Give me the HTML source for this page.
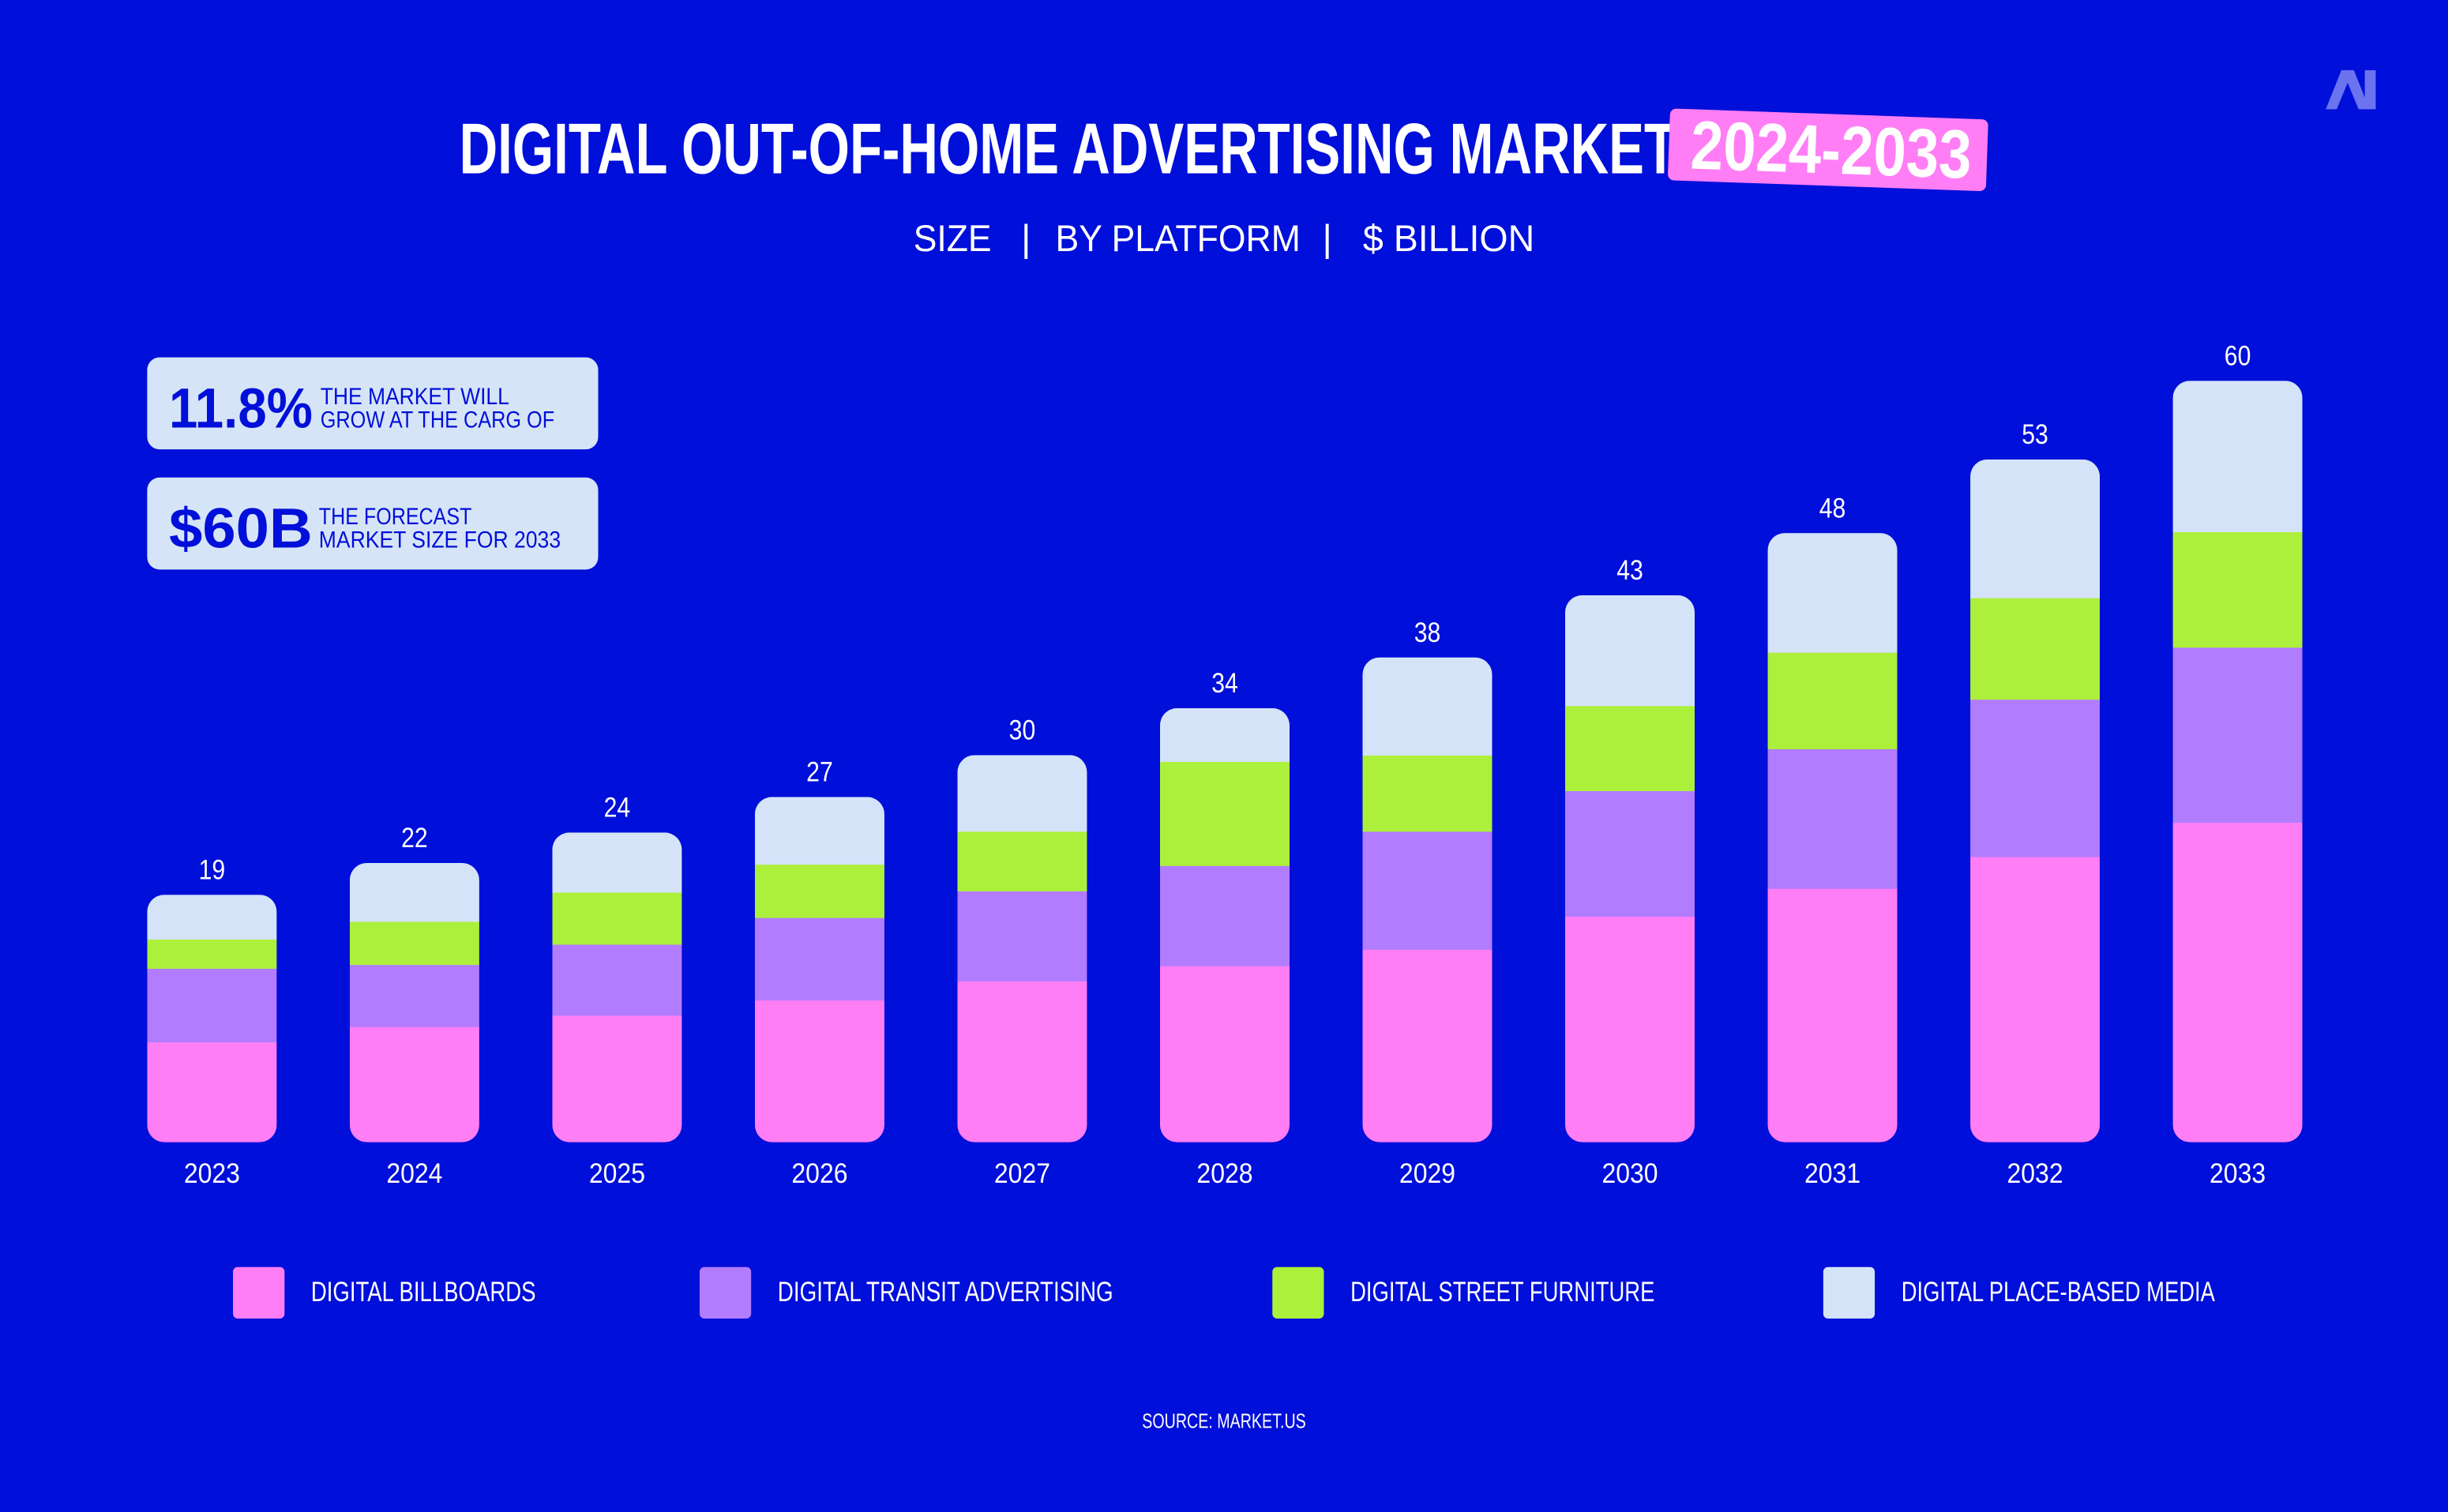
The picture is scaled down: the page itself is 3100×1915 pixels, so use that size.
<!DOCTYPE html>
<html><head><meta charset="utf-8"><style>
html,body{margin:0;padding:0;background:#000fd9;}
svg{display:block;}
text{font-family:"Liberation Sans",sans-serif;}
</style></head><body>
<svg id="chart" width="3100" height="1915" viewBox="0 0 1568 969" xmlns="http://www.w3.org/2000/svg">
<rect width="1568" height="969" fill="#000fd9"/>
<g fill="#6b73ee">
<path d="M1490 70 L1500 45 L1508 45 L1518 70 L1511 70 L1504 53 L1497 70 Z"/>
<rect x="1515" y="45" width="7" height="25"/>
</g>
<text x="294" y="111" font-size="46" font-weight="bold" fill="#fff" textLength="780" lengthAdjust="spacingAndGlyphs">DIGITAL OUT-OF-HOME ADVERTISING MARKET</text>
<g transform="rotate(2 1170 97)">
<rect x="1069" y="73" width="204" height="46" rx="4" fill="#ff7ef5"/>
<text x="1083" y="111" font-size="44" font-weight="bold" fill="#fff" textLength="180" lengthAdjust="spacingAndGlyphs">2024-2033</text>
</g>
<g fill="#fff" font-size="24">
<text x="585" y="161" textLength="50" lengthAdjust="spacingAndGlyphs">SIZE</text>
<text x="654" y="161">|</text>
<text x="676" y="161" textLength="157" lengthAdjust="spacingAndGlyphs">BY PLATFORM</text>
<text x="847" y="161">|</text>
<text x="873" y="161" textLength="110" lengthAdjust="spacingAndGlyphs">$ BILLION</text>
</g>
<g>
<rect x="94" y="229" width="289" height="59" rx="8" fill="#d6e4f7"/>
<text x="108" y="274" font-size="36" font-weight="bold" fill="#000fd9" textLength="92" lengthAdjust="spacingAndGlyphs">11.8%</text>
<text x="205" y="259" font-size="15" fill="#000fd9" textLength="121" lengthAdjust="spacingAndGlyphs">THE MARKET WILL</text>
<text x="205" y="274" font-size="15" fill="#000fd9" textLength="150" lengthAdjust="spacingAndGlyphs">GROW AT THE CARG OF</text>
</g>
<g>
<rect x="94" y="306" width="289" height="59" rx="8" fill="#d6e4f7"/>
<text x="108" y="351" font-size="36" font-weight="bold" fill="#000fd9" textLength="92" lengthAdjust="spacingAndGlyphs">$60B</text>
<text x="204" y="336" font-size="15" fill="#000fd9" textLength="98" lengthAdjust="spacingAndGlyphs">THE FORECAST</text>
<text x="204" y="351" font-size="15" fill="#000fd9" textLength="155" lengthAdjust="spacingAndGlyphs">MARKET SIZE FOR 2033</text>
</g>
<g id="bars"></g>
<g id="legend"></g>
<text x="784" y="915" font-size="13" fill="#fff" text-anchor="middle" textLength="105" lengthAdjust="spacingAndGlyphs">SOURCE: MARKET.US</text>
</svg>
<script>
const years = ["2023","2024","2025","2026","2027","2028","2029","2030","2031","2032","2033"];
const totals = [19,22,24,27,30,34,38,43,48,53,60];
const billboards = [7.9,9.1,10.0,11.2,12.7,13.9,15.2,17.8,20.0,22.5,25.2];
const transit = [5.8,4.9,5.6,6.5,7.1,7.9,9.3,9.9,11.0,12.4,13.8];
const streetFurniture = [2.3,3.4,4.1,4.2,4.7,8.2,6.0,6.7,7.6,8.0,9.1];
const placeBased = [3.5,4.6,4.7,5.3,6.0,4.2,7.7,8.7,9.4,10.9,11.9];
const seriesNames = ["DIGITAL BILLBOARDS","DIGITAL TRANSIT ADVERTISING","DIGITAL STREET FURNITURE","DIGITAL PLACE-BASED MEDIA"];

const NS="http://www.w3.org/2000/svg";
const colors=["#ff7ef5","#b27cff","#adf03b","#d4e3f8"];
const series=[billboards,transit,streetFurniture,placeBased];
const baseY=732, pxPerUnit=(732-244)/60;
const y=v=>baseY-v*pxPerUnit;
const x0=94, step=129.8, bw=83;
const xPos=i=>x0+i*step;
const g=document.getElementById('bars');
function mk(tag,attrs,parent){const e=document.createElementNS(NS,tag);for(const k in attrs)e.setAttribute(k,attrs[k]);parent.appendChild(e);return e;}
const defs=mk('defs',{},document.getElementById('chart'));
years.forEach((yr,i)=>{
  const x=xPos(i);
  let sum=0;series.forEach(s=>sum+=s[i]);
  const cp=mk('clipPath',{id:'clip'+i},defs);
  mk('rect',{x:x,y:y(sum),width:bw,height:baseY-y(sum),rx:11},cp);
  const bg=mk('g',{'clip-path':'url(#clip'+i+')'},g);
  
  
  let acc=0;
  series.forEach((s,k)=>{
    const r=mk('rect',{x:x,y:y(acc+s[i]),width:bw,height:s[i]*pxPerUnit+0.3,fill:colors[k]},bg);
    
    
    acc+=s[i];
  });
  const t=mk('text',{x:x+bw/2,y:y(sum)-10,'font-size':18,fill:'#fff','text-anchor':'middle',textLength:17,lengthAdjust:'spacingAndGlyphs'},g);
  t.textContent=totals[i];
  
  
  const l=mk('text',{x:x+bw/2,y:758,'font-size':18,fill:'#fff','text-anchor':'middle',textLength:36,lengthAdjust:'spacingAndGlyphs'},g);
  l.textContent=yr;
  
  
});
const lg=document.getElementById('legend');
const lx=[149,448,815,1168], lw=[144,215,195,201];
seriesNames.forEach((n,k)=>{
  const e=mk('g',{},lg);
  
  
  mk('rect',{x:lx[k],y:812,width:33,height:33,rx:3,fill:colors[k]},e);
  const t=mk('text',{x:lx[k]+50,y:834,'font-size':18,fill:'#fff',textLength:lw[k],lengthAdjust:'spacingAndGlyphs'},e);
  t.textContent=n;
});
</script>
</body></html>
